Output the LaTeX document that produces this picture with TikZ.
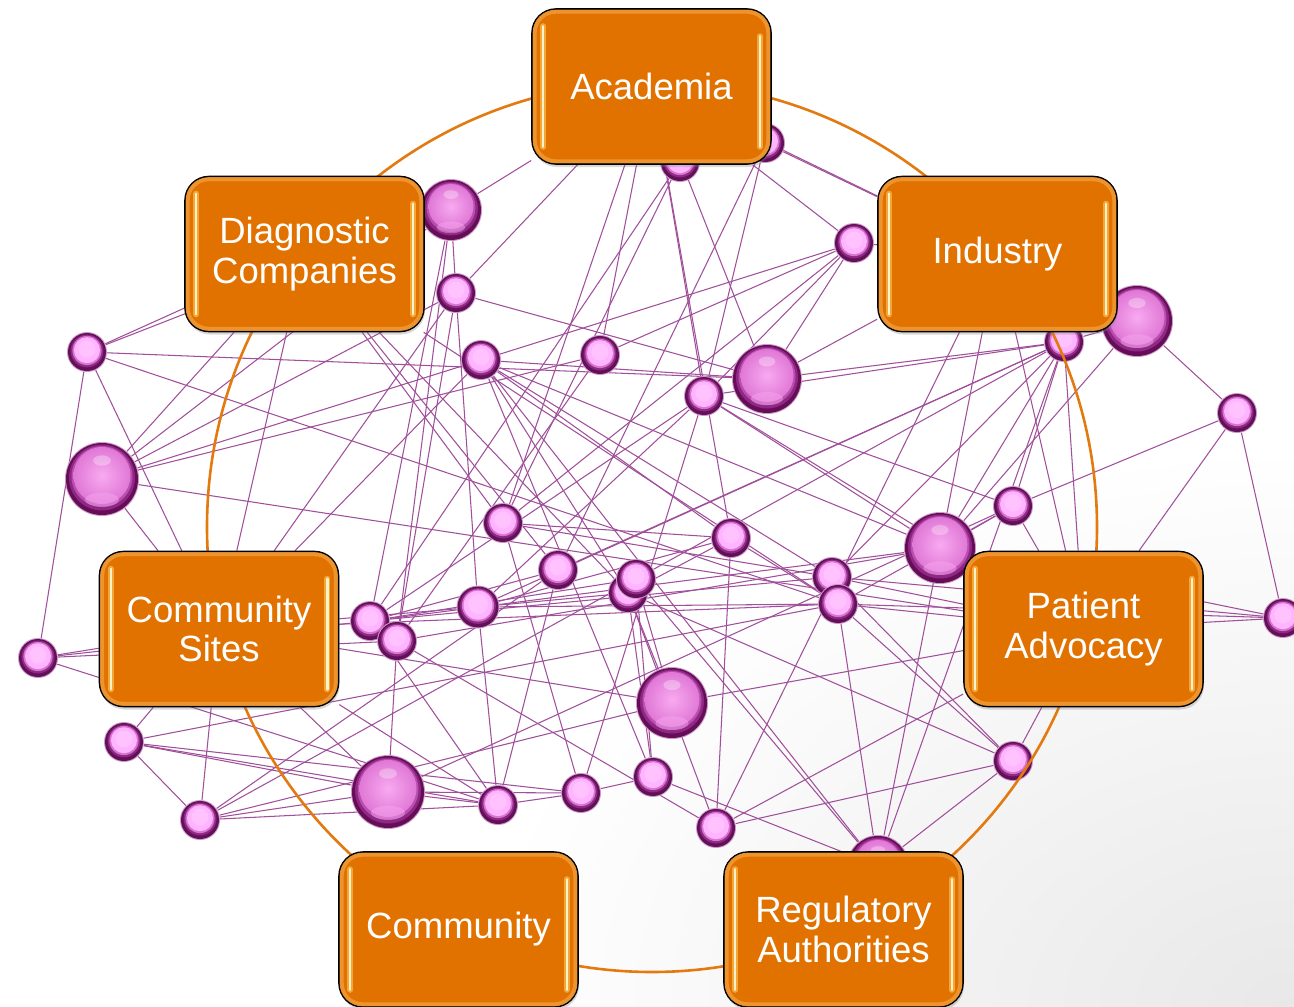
\documentclass[tikz,border=0pt]{standalone}
\usepackage{fontspec}
\newfontfamily\labelfont{Liberation Sans}
\usetikzlibrary{shadows}

% palette
\definecolor{boxorange}{HTML}{E27200}
\definecolor{rimorange}{HTML}{F2A040}
\definecolor{glowcol}{HTML}{F9B548}
\definecolor{corecol}{HTML}{FFF2C8}
\definecolor{ringorange}{HTML}{E37A10}
\definecolor{edgepurple}{HTML}{A04F9A}
% small spheres
\definecolor{sa}{HTML}{FFCCFF}
\definecolor{sb}{HTML}{FFB4FF}
\definecolor{sc}{HTML}{D874D0}
\definecolor{sd}{HTML}{8E2A82}
\definecolor{se}{HTML}{63105A}
\definecolor{sf}{HTML}{CE98C8}
% large spheres
\definecolor{ba}{HTML}{F8AAF0}
\definecolor{bm}{HTML}{E078D6}
\definecolor{bc}{HTML}{B94EAE}
\definecolor{bd}{HTML}{8E2884}
\definecolor{be}{HTML}{650E57}

\pgfdeclarelayer{bg}
\pgfdeclarelayer{links}
\pgfdeclarelayer{balls}
\pgfdeclarelayer{ringlayer}
\pgfsetlayers{bg,links,balls,ringlayer,main}

\tikzset{
  hub/.style={rectangle, rounded corners=24pt, fill=boxorange, draw=black,
    line width=1.6pt, minimum width=239pt, minimum height=155pt, align=center,
    text=white, font=\labelfont\fontsize{36.5}{39.5}\selectfont,
    drop shadow={opacity=.3, shadow xshift=1pt, shadow yshift=-3pt}},
  ballshape/.style={circle, inner sep=0pt},
  link/.style={draw=edgepurple, line width=1.05pt},
  ringline/.style={circle, draw=ringorange, line width=2.6pt, inner sep=0pt},
  rimglow/.style={draw=rimorange, line width=4pt, rounded corners=21pt, opacity=.75},
  streakglow/.style={draw=glowcol, line width=6pt, line cap=round, opacity=.8},
  streakcore/.style={draw=corecol, line width=2.4pt, line cap=round},
}

% glossy rim and vertical highlights of a box
\newcommand\glossy[1]{%
  \draw[rimglow] ([xshift=3.5pt,yshift=-3.5pt]#1.north west) rectangle ([xshift=-3.5pt,yshift=3.5pt]#1.south east);
  \draw[streakglow] ([xshift=12pt,yshift=-18pt]#1.north west) -- ([xshift=12pt,yshift=18pt]#1.south west);
  \draw[streakcore] ([xshift=12pt,yshift=-18pt]#1.north west) -- ([xshift=12pt,yshift=18pt]#1.south west);
  \draw[streakglow] ([xshift=-12pt,yshift=-28pt]#1.north east) -- ([xshift=-12pt,yshift=18pt]#1.south east);
  \draw[streakcore] ([xshift=-12pt,yshift=-28pt]#1.north east) -- ([xshift=-12pt,yshift=18pt]#1.south east);
}

% small sphere with a dark rim: name, x, y, radius
\newcommand\smallsph[4]{%
  \node[ballshape, minimum size={2*#4*1pt}, fill=sf] (#1) at (#2,#3) {};
  \fill[se] (#1.center) circle [radius={(#4-1)*1pt}];
  \fill[sd] ([yshift=1pt]#1.center) circle [radius={(#4-3.6)*1pt}];
  \fill[sc] ([yshift=1.5pt]#1.center) circle [radius={(#4-5.4)*1pt}];
  \fill[sb] ([yshift=1.8pt]#1.center) circle [radius={(#4-7)*1pt}];
  \fill[sa, opacity=.6] ([yshift=3pt]#1.center) circle [radius={(#4-11.5)*1pt}];
}

% large glassy sphere: name, x, y, radius
\newcommand\bigsph[4]{%
  \node[ballshape, minimum size={2*#4*1pt}, fill=sf] (#1) at (#2,#3) {};
  \fill[be] (#1.center) circle [radius={(#4-1)*1pt}];
  \fill[bd] ([yshift=1.5pt]#1.center) circle [radius={(#4-4)*1pt}];
  \fill[bc] ([yshift=2.5pt]#1.center) circle [radius={(#4-6.5)*1pt}];
  \shade[inner color=ba, outer color=bm] ([yshift=3.5pt]#1.center) circle [radius={(#4-8.5)*1pt}];
  \fill[ba, opacity=.45] ([yshift={-0.56*#4*1pt}]#1.center) ellipse ({0.46*#4*1pt} and {0.19*#4*1pt});
  \fill[white, opacity=.3] ([yshift={0.5*#4*1pt}]#1.center) ellipse ({0.24*#4*1pt} and {0.14*#4*1pt});
}

\begin{document}
\begin{tikzpicture}[x=1pt, y=-1pt]
\useasboundingbox (0,0) rectangle (1294,1007);

% background with a soft grey corner
\begin{pgfonlayer}{bg}
  \fill[white] (0,0) rectangle (1294,1007);
  \begin{scope}
    \clip (0,0) rectangle (1294,1007);
    \shade[inner color=black!9, outer color=white] (1294,1007) ellipse (820pt and 560pt);
  \end{scope}
\end{pgfonlayer}

% stakeholder boxes
\node[hub] (aca) at (651.5,86.5) {Academia};
\node[hub] (dia) at (304.5,254) {Diagnostic\\Companies};
\node[hub] (ind) at (997.5,254) {Industry};
\node[hub] (cs)  at (219,629) {Community\\Sites};
\node[hub] (pa)  at (1083.5,629) {Patient\\Advocacy};
\node[hub] (com) at (458.5,929.5) {Community};
\node[hub] (reg) at (843.5,929.5) {Regulatory\\Authorities};
\foreach \b in {aca,dia,ind,cs,pa,com,reg} {\glossy{\b}}

% network spheres
\begin{pgfonlayer}{balls}
  \foreach \n/\x/\y in {s1/87/352, s2/456/293, s3/481/360, s4/600/355, s5/854/243,
      s6/704/396, s7/1237/413, s8/1013/506, s9/1064/342, s10/503/523, s11/731/538,
      s12/558/570, s13/628/593, s14/636/579, s15/832/577, s16/838/604,
      s18/370/621, s19/397/641, s20/38/658, s21/1283/618, s22/124/742,
      s23/200/820, s24/498/805, s25/581/793, s26/653/777, s27/716/828,
      s28/1013/761, s29/680/162, s30/765/143}
    {\smallsph{\n}{\x}{\y}{20}}
  \smallsph{s17}{478}{607}{21.5}
  \bigsph{bA}{451}{210}{31}
  \bigsph{bB}{102}{479}{37}
  \bigsph{bC}{767}{379}{35}
  \bigsph{bD}{1137}{321}{36}
  \bigsph{bE}{940}{548}{36}
  \bigsph{bF}{672}{703}{36}
  \bigsph{bG}{388}{792}{37}
  \bigsph{bH}{878}{866}{31}
\end{pgfonlayer}

% orange ring joining the boxes
\begin{pgfonlayer}{ringlayer}
  \node[ringline, minimum size=890pt] (ring) at (652,527) {};
\end{pgfonlayer}

% connections
\begin{pgfonlayer}{links}
  \foreach \a/\b in {
      aca/s2, aca/bA, aca/s4, aca/bC, aca/s11, aca/s5, aca/ind, aca/s6, aca/s10,
      dia/s1, dia/bB, dia/s12, dia/s13, dia/cs, dia/s10, dia/s16,
      ind/s27, ind/pa, ind/bH, ind/s9, ind/s5, ind/bD,
      s1/bC, s1/s20, s1/cs, s1/s16, s1/bA,
      bB/s2, bB/bA, bB/s4, bB/s5, bB/pa, bB/cs,
      s2/s17, s2/bC, s2/cs, s2/s19, s2/bA,
      bA/s18, bA/s19,
      s3/bC, s3/s11, s3/s15, s3/s13, s3/bE, s3/s26, s3/cs,
      s4/s5, s4/s19,
      s5/s6, s5/s10, s5/bC,
      s29/s10, s29/s18,
      s30/s6, s30/ind, s30/s12,
      s6/s9, s6/s8, s6/bE, s6/pa, s6/s18, s6/s17, s6/s25,
      bC/s9, bC/ind,
      s9/bE, s9/s8, s9/s15, s9/s17, s9/bH, s9/pa, s9/s12,
      bD/s7, bD/s9, bD/ind, bD/bE,
      s7/s8, s7/pa, s7/s21,
      s8/bE, s8/pa, s8/s16, s8/bG,
      bE/s18, bE/pa,
      s21/pa, s21/bE, s21/s16, s21/s15,
      s28/pa, s28/bH, s28/s15, s28/s16, s28/s13, s28/s27,
      s27/s11, s27/pa, s27/s13,
      bH/s3, bH/s14, bH/s26, bH/s16,
      s26/s25, s26/s14, s26/s13,
      s25/s24, s25/s10, s25/s22,
      s24/bG, s24/s22, s24/s17, s24/s12, s24/cs, s24/s18, s24/s20,
      bG/s22, bG/s23, bG/s19, bG/s25, bG/cs,
      s22/cs, s22/s23, s22/s16,
      s23/cs, s23/bF, s23/s14, s23/s12, s23/s24,
      bF/s13, bF/cs, bF/pa, bF/s14,
      s10/s15, s10/s11,
      s11/s17, s11/s13, s11/s16,
      s12/s18, s13/s17, s14/s9, s15/pa,
      s16/pa, s16/s17, s16/cs, s17/cs,
      s18/s14, s18/s15, s19/s27, s19/bE,
      s20/s18, s20/s19, s20/cs}
    {\draw[link] (\a) -- (\b);}
\end{pgfonlayer}
\end{tikzpicture}
\end{document}
